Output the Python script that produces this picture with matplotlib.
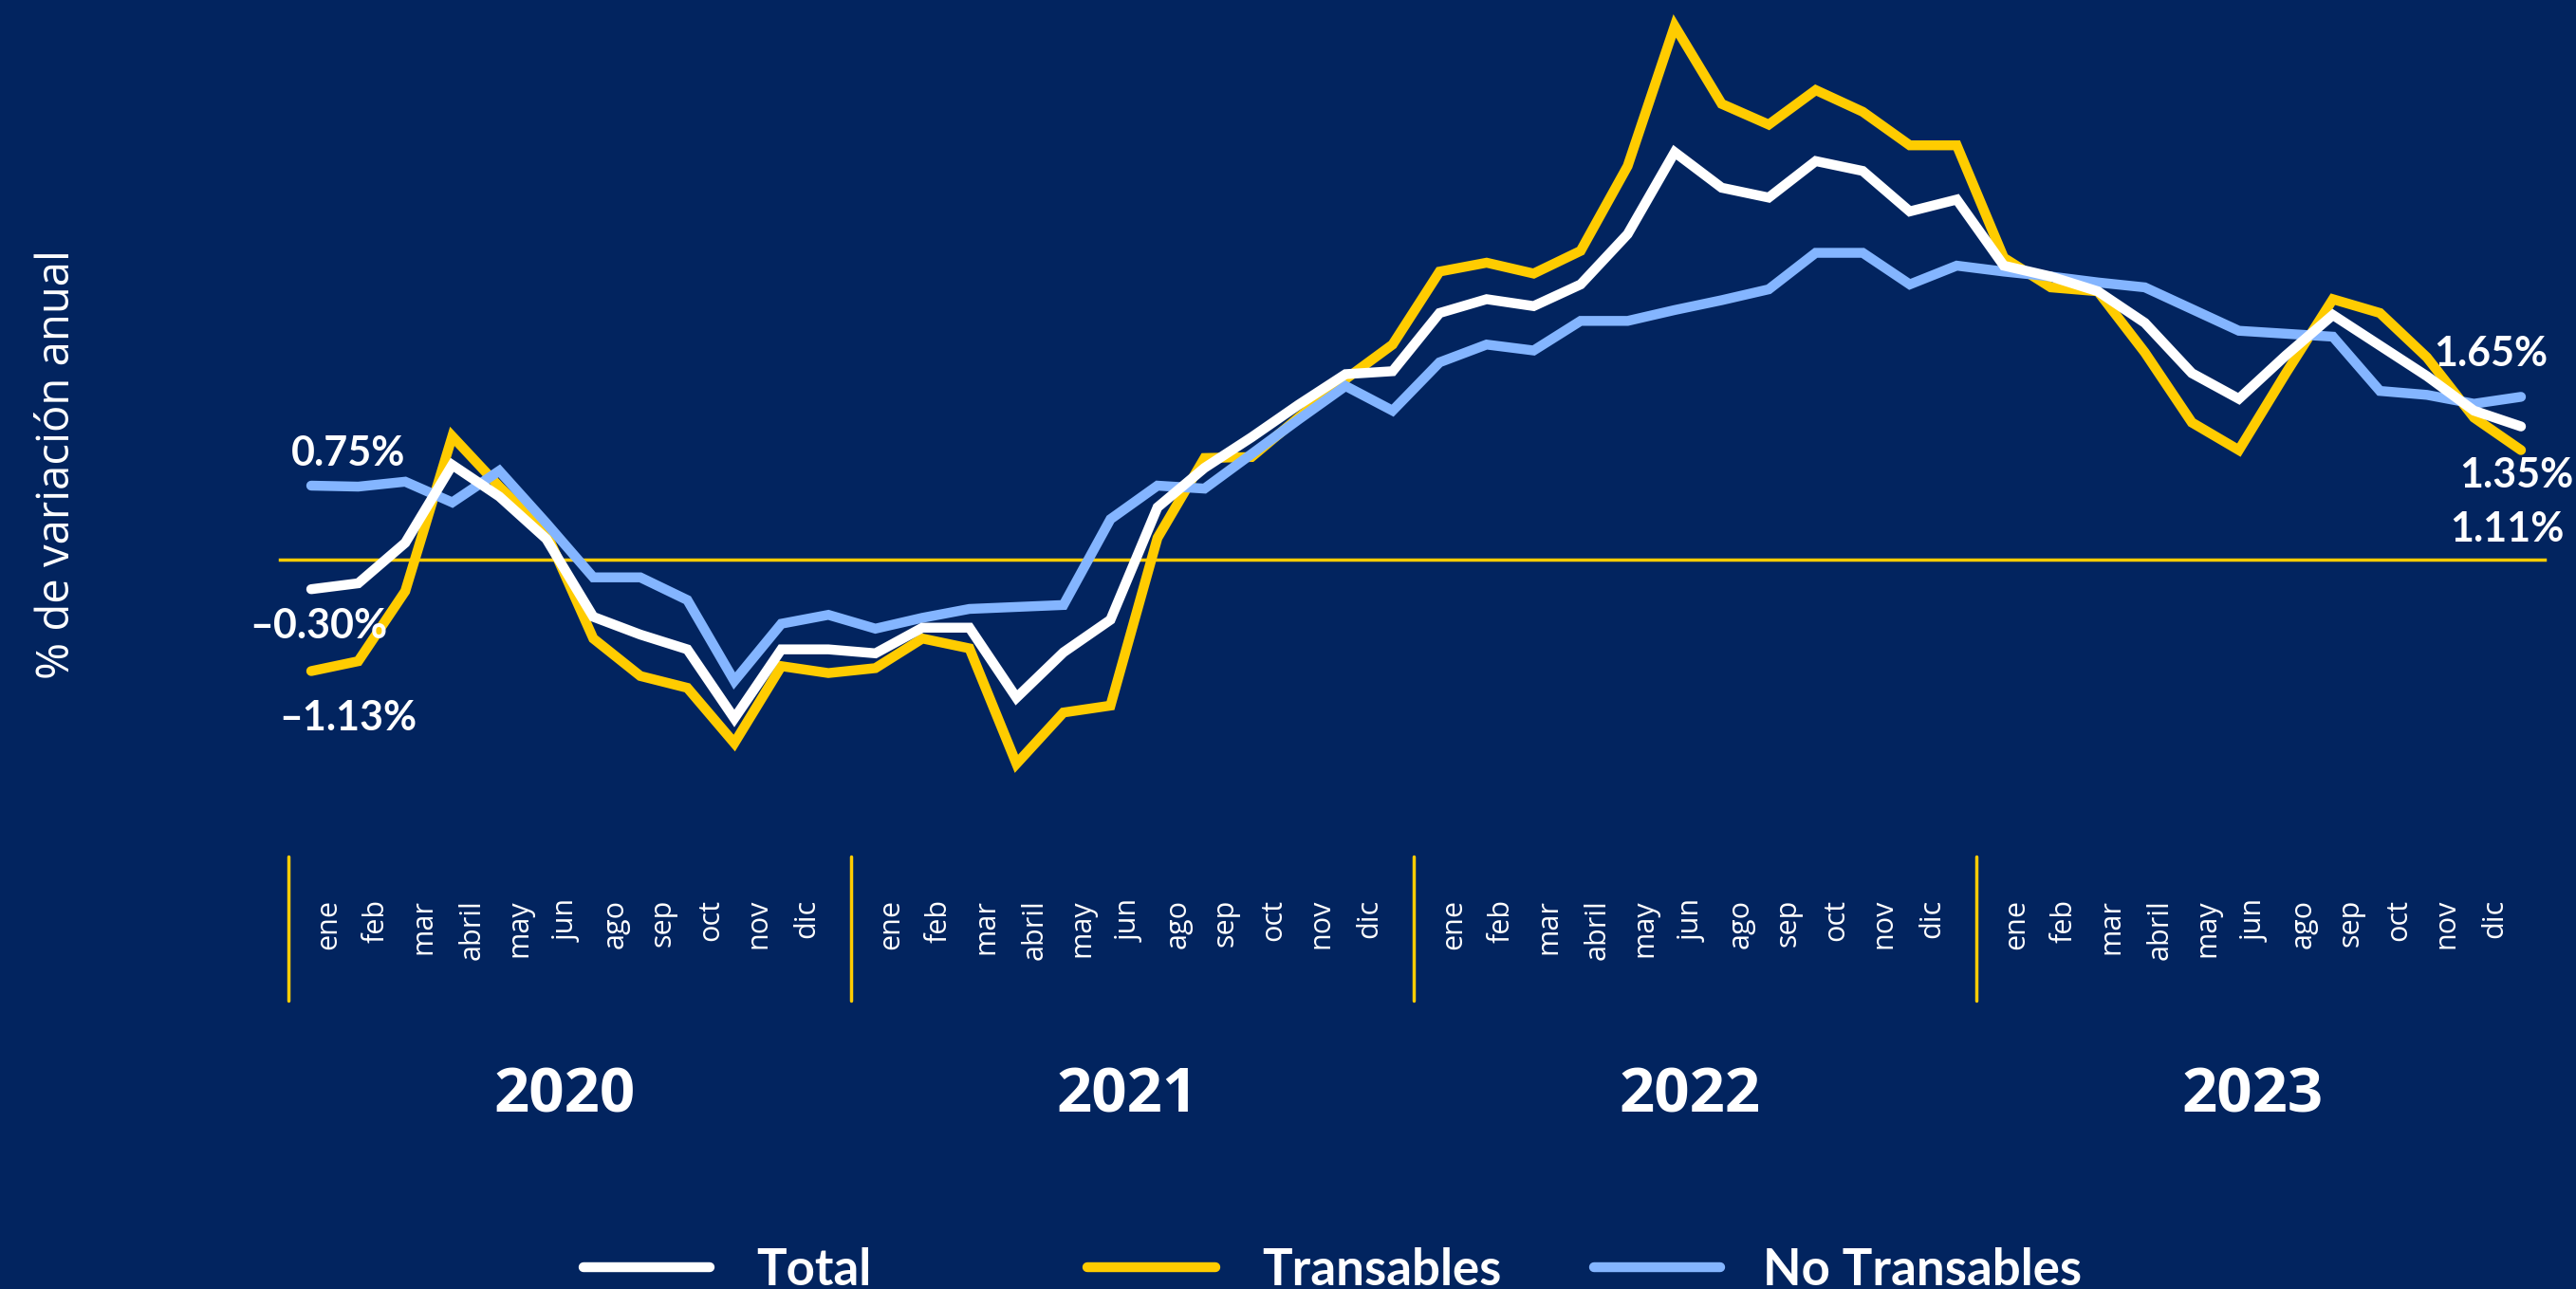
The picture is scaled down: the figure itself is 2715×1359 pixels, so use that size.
import matplotlib
matplotlib.use("Agg")
import matplotlib.pyplot as plt
from matplotlib.lines import Line2D

# 48 meses, ene-2020 .. dic-2023 (variación anual, %)
total = [-0.30, -0.24, 0.17, 0.96, 0.64, 0.21, -0.58, -0.76, -0.91, -1.61, -0.91, -0.91,
         -0.95, -0.69, -0.69, -1.40, -0.94, -0.61, 0.53, 0.93, 1.24, 1.57, 1.88, 1.91,
         2.50, 2.64, 2.57, 2.79, 3.30, 4.13, 3.77, 3.67, 4.04, 3.94, 3.53, 3.65,
         2.98, 2.87, 2.72, 2.40, 1.89, 1.63, 2.07, 2.48, 2.17, 1.86, 1.51, 1.35]
transables = [-1.13, -1.03, -0.32, 1.25, 0.74, 0.27, -0.80, -1.18, -1.30, -1.86, -1.08, -1.15,
              -1.10, -0.80, -0.90, -2.07, -1.55, -1.48, 0.22, 1.03, 1.04, 1.44, 1.83, 2.18,
              2.92, 3.01, 2.90, 3.13, 3.99, 5.41, 4.62, 4.41, 4.76, 4.54, 4.20, 4.20,
              3.06, 2.76, 2.72, 2.10, 1.39, 1.11, 1.89, 2.64, 2.50, 2.05, 1.44, 1.11]
no_transables = [0.75, 0.74, 0.79, 0.58, 0.90, 0.37, -0.18, -0.18, -0.41, -1.23, -0.65, -0.56,
                 -0.70, -0.59, -0.50, -0.48, -0.46, 0.41, 0.75, 0.72, 1.07, 1.42, 1.76, 1.51,
                 2.00, 2.18, 2.12, 2.42, 2.42, 2.53, 2.63, 2.74, 3.11, 3.11, 2.79, 2.98,
                 2.92, 2.87, 2.81, 2.76, 2.54, 2.32, 2.29, 2.26, 1.71, 1.67, 1.58, 1.65]

years = ["2020", "2021", "2022", "2023"]
months = ["ene", "feb", "mar", "abril", "may", "jun", "ago", "sep", "oct", "nov", "dic"]
series_names = ["Total", "Transables", "No Transables"]

bg = "#02245f"
yellow = "#ffcc00"
blue = "#84b5ff"
white = "#ffffff"

W, H = 2715, 1359
plt.rcParams["font.family"] = ["Open Sans", "Noto Sans", "DejaVu Sans"]

fig = plt.figure(figsize=(W / 100, H / 100), dpi=100, facecolor=bg)
ax = fig.add_axes([0, 0, 1, 1])
ax.set_facecolor(bg)
ax.axis("off")

# mapping: index 0 -> 328px, 47 -> 2657px, zero at 590px from top, 104 px per point
step = (2657 - 328) / 47
ax.set_xlim(-328 / step, (W - 328) / step)
ax.set_ylim(-(H - 590) / 104, 590 / 104)


def fx(px):
    return px / W


def fy(py):
    return 1 - py / H


ax.axhline(0, xmin=fx(295), xmax=fx(2682), color=yellow, lw=2.5, zorder=1)

x = list(range(len(total)))
style = dict(lw=7.5, solid_capstyle="round", solid_joinstyle="miter")
ax.plot(x, transables, color=yellow, zorder=3, **style)
ax.plot(x, no_transables, color=blue, zorder=4, **style)
ax.plot(x, total, color=white, zorder=5, **style)

# value labels
lab = dict(color=white, fontsize=31, fontweight="bold", ha="center", va="center",
           family=["Lato", "Open Sans", "DejaVu Sans"])
fig.text(fx(367), fy(478), "0.75%", **lab)
fig.text(fx(336), fy(660), "\u20130.30%", **lab)
fig.text(fx(367), fy(757), "\u20131.13%", **lab)
fig.text(fx(2625), fy(373), "1.65%", **lab)
fig.text(fx(2652), fy(501), "1.35%", **lab)
fig.text(fx(2642), fy(558), "1.11%", **lab)

fig.text(fx(60), fy(490), "% de variación anual", color=white, fontsize=34,
         rotation=90, ha="center", va="center")

# month / year axis
for k, yr in enumerate(years):
    d = 304 + 593 * k
    fig.add_artist(Line2D([fx(d), fx(d)], [fy(903), fy(1055)], color=yellow, lw=2.5,
                          solid_capstyle="round", transform=fig.transFigure))
    for j, m in enumerate(months):
        fig.text(fx(d + 42 + 50.4 * j), fy(948), m, color=white, fontsize=22,
                 rotation=90, ha="center", va="top")
    fig.text(fx(d + 291), fy(1156), yr, color=white, fontsize=47, fontweight="bold",
             ha="center", va="center")

# legend
leg_font = ["Liberation Sans Narrow", "Lato", "DejaVu Sans"]
handles = [(615, 748, 797, white), (1146, 1281, 1330, yellow), (1680, 1813, 1858, blue)]
for (x0, x1, tx, c), name in zip(handles, series_names):
    fig.add_artist(Line2D([fx(x0), fx(x1)], [fy(1336), fy(1336)], color=c, lw=7.5,
                          solid_capstyle="round", transform=fig.transFigure))
    fig.text(fx(tx), fy(1315), name, color=white, fontsize=38, fontweight="bold",
             family=leg_font, ha="left", va="top")

fig.savefig("out.png", dpi=100, facecolor=bg)
